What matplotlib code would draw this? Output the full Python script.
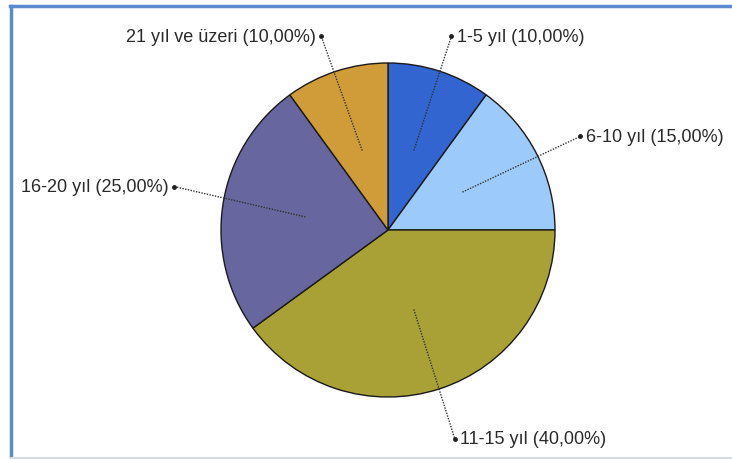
import matplotlib
matplotlib.use('Agg')
from matplotlib import pyplot as plt
from matplotlib.lines import Line2D
import numpy as np

labels = ['1-5 yıl', '6-10 yıl', '11-15 yıl', '16-20 yıl', '21 yıl ve üzeri']
shares = [10, 15, 40, 25, 10]
colors = ['#3265d0', '#9ccbfb', '#a9a136', '#67669e', '#d09c3a']
# where each label's dot sits (pie radius = 1) and its text alignment
label_pos = [(0.38, 1.16), (1.15, 0.56), (0.40, -1.25), (-1.28, 0.26), (-0.40, 1.16)]
label_ha = ['left', 'left', 'left', 'right', 'right']

plt.rcParams['font.family'] = ['Liberation Sans', 'DejaVu Sans']

fig = plt.figure(figsize=(7.32, 4.60), dpi=100)
ax = fig.add_axes([0, 0, 1, 1])
R = 167.0  # pie radius in px
cx, cy = 388.0, 229.0  # pie centre, px from left / bottom

wedges, _ = ax.pie(shares, colors=colors, startangle=90, counterclock=False,
                   radius=1, center=(0, 0), frame=True,
                   wedgeprops=dict(edgecolor='#1a1a1a', linewidth=1))
ax.set_xlim(-cx / R, (732 - cx) / R)
ax.set_ylim(-cy / R, (460 - cy) / R)
ax.set_aspect('equal')
ax.axis('off')

for w, lab, val, (lx, ly), ha in zip(wedges, labels, shares, label_pos, label_ha):
    mid = np.deg2rad((w.theta1 + w.theta2) / 2)
    ix, iy = 0.5 * np.cos(mid), 0.5 * np.sin(mid)
    ax.plot([ix, lx], [iy, ly], color='#333333', lw=1, ls=(0, (1, 1)), zorder=5)
    ax.plot([lx], [ly], 'o', color='#222222', ms=2.5, zorder=6)
    txt = '{} ({:.2f}%)'.format(lab, val).replace('.', ',')
    off = 4 if ha == 'left' else -4
    ax.annotate(txt, (lx, ly), xytext=(off, 0), textcoords='offset points',
                ha=ha, va='center', fontsize=13, color='#2a2a2a')

# blue frame around the chart
fig.add_artist(Line2D([10 / 732, 1], [1 - 7 / 460, 1 - 7 / 460], color='#5a8ad0', lw=2.5))
fig.add_artist(Line2D([11 / 732, 11 / 732], [0, 1 - 7 / 460], color='#5a8ad0', lw=2.5))
fig.add_artist(Line2D([11 / 732, 1], [1 / 460, 1 / 460], color='#d5dde8', lw=1.5))

fig.savefig('out.png', dpi=100)
